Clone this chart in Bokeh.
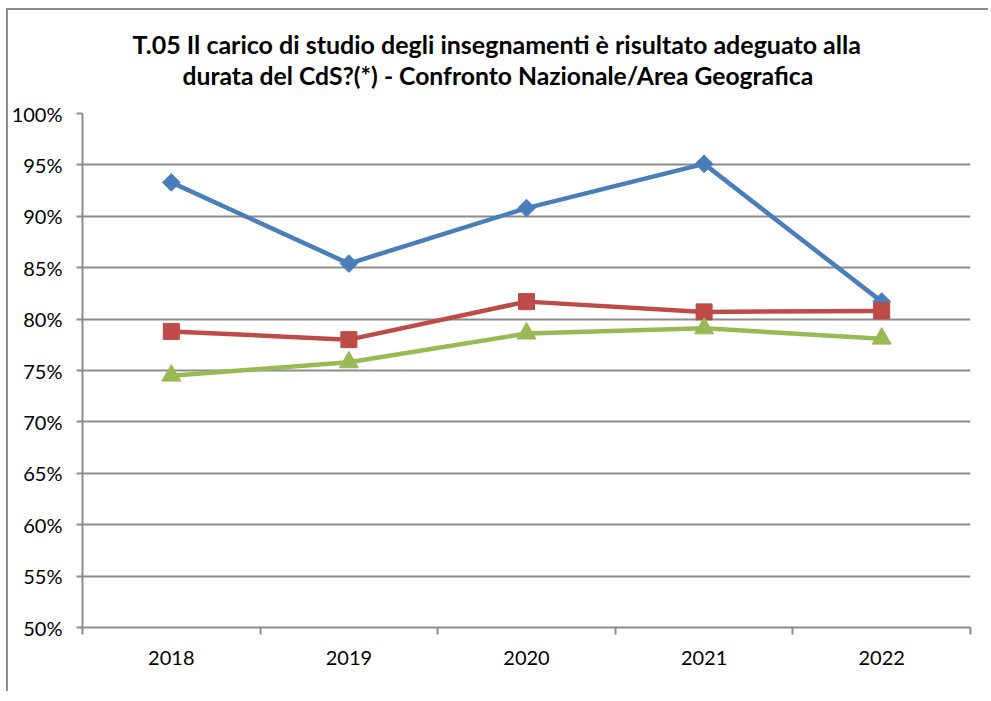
import numpy as np
from bokeh.plotting import figure
from bokeh.models import FixedTicker, Range1d, PrintfTickFormatter, Title
from bokeh.embed import file_html
from bokeh.resources import INLINE

# ---- data ----
years = ["2018", "2019", "2020", "2021", "2022"]
y_ticks = [50, 55, 60, 65, 70, 75, 80, 85, 90, 95, 100]
serie_cds = [93.3, 85.4, 90.8, 95.1, 81.7]
serie_area = [78.8, 78.0, 81.7, 80.7, 80.8]
serie_naz = [74.5, 75.8, 78.6, 79.1, 78.1]
title_line1 = "T.05 Il carico di studio degli insegnamenti è risultato adeguato alla"
title_line2 = "durata del CdS?(*) - Confronto Nazionale/Area Geografica"

xs = list(range(1, len(years) + 1))
GRAY = "#8c8c8c"
FONT = "Lato"

p = figure(width=982, height=683, x_range=Range1d(0.5, len(years) + 0.5),
           y_range=Range1d(y_ticks[0], y_ticks[-1]),
           output_backend="svg", toolbar_location=None,
           min_border_left=73, min_border_right=20, min_border_top=103, min_border_bottom=66)
p.outline_line_color = None
p.background_fill_color = "white"
p.border_fill_color = "white"
p.styles = {"margin-left": "6px", "margin-top": "8px",
            "border-left": "2px solid #8c8c8c", "border-top": "2px solid #8c8c8c"}

# title: two lines, each placed on its own
def style_title(t, off, standoff, size="25px"):
    t.align = "left"
    t.offset = off
    t.text_font = FONT
    t.text_font_style = "bold"
    t.text_font_size = size
    t.text_color = "black"
    t.standoff = standoff

p.title.text = title_line1
style_title(p.title, 50, 0)
# spacer between the title block and the plot area (nearest to the frame)
t3 = Title(text=" ", text_font_size="10px", standoff=11)
p.add_layout(t3, "above")
t2 = Title(text=title_line2)
style_title(t2, 100, 0, "24.7px")
p.add_layout(t2, "above")

# x axis
xa = p.xaxis[0]
xa.ticker = FixedTicker(ticks=xs, minor_ticks=[x - 0.5 for x in xs] + [xs[-1] + 0.5])
xa.major_label_overrides = {x: y for x, y in zip(xs, years)}
xa.major_tick_line_color = None
xa.minor_tick_line_color = GRAY
xa.minor_tick_line_width = 2
xa.minor_tick_in = 0
xa.minor_tick_out = 7
xa.axis_line_color = GRAY
xa.axis_line_width = 2
xa.major_label_text_font = FONT
xa.major_label_text_font_size = "20px"
xa.major_label_text_color = "black"
xa.major_label_standoff = 16

# y axis
ya = p.yaxis[0]
ya.ticker = FixedTicker(ticks=y_ticks)
ya.formatter = PrintfTickFormatter(format="%d%%")
ya.major_tick_line_color = GRAY
ya.major_tick_line_width = 2
ya.major_tick_in = 0
ya.major_tick_out = 6
ya.minor_tick_line_color = None
ya.axis_line_color = GRAY
ya.axis_line_width = 2
ya.major_label_text_font = FONT
ya.major_label_text_font_size = "20px"
ya.major_label_text_color = "black"
ya.major_label_standoff = 14

p.xgrid.visible = False
p.ygrid.grid_line_color = GRAY
p.ygrid.grid_line_width = 2

# series
BLUE, RED, GREEN = "#4a7ebb", "#be4b48", "#98b954"
p.line(xs, serie_cds, line_color=BLUE, line_width=4.5)
p.scatter(xs, serie_cds, marker="square", angle=np.pi / 4, size=12.5,
          fill_color=BLUE, line_color=BLUE)
p.line(xs, serie_area, line_color=RED, line_width=4.5)
p.scatter(xs, serie_area, marker="square", size=16, fill_color=RED, line_color=RED)
p.line(xs, serie_naz, line_color=GREEN, line_width=4.5)
p.scatter(xs, serie_naz, marker="triangle", size=19, fill_color=GREEN, line_color=GREEN)

open("out.html", "w").write(file_html(p, INLINE))
